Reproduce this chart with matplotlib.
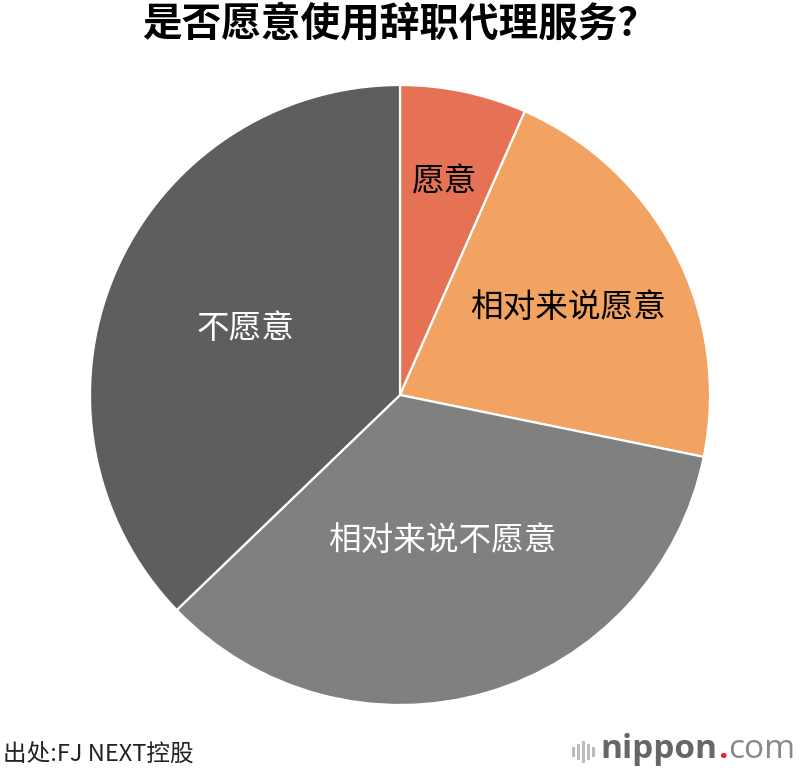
import numpy as np
import matplotlib
matplotlib.use("Agg")
import matplotlib.pyplot as plt
from matplotlib.patches import Rectangle

plt.rcParams["font.family"] = ["Noto Sans CJK SC", "DejaVu Sans"]

# data
labels = ["愿意", "相对来说愿意", "相对来说不愿意", "不愿意"]
shares = [6.6, 21.6, 34.6, 37.2]
colors = ["#E57254", "#F2A361", "#808080", "#5E5E5E"]
label_colors = ["black", "black", "white", "white"]
label_radius = [0.70, 0.61, 0.49, 0.54]

title = "是否愿意使用辞职代理服务？"
source = "出处:FJ NEXT控股"

W, H = 800, 776
fig = plt.figure(figsize=(W / 100, H / 100), dpi=100)

cx, cy, r = 400, 395, 310
ax = fig.add_axes([(cx - r) / W, (H - cy - r) / H, 2 * r / W, 2 * r / H])
ax.pie(shares, colors=colors, startangle=90, counterclock=False,
       wedgeprops=dict(edgecolor="white", linewidth=1.6))
ax.set_xlim(-1, 1)
ax.set_ylim(-1, 1)
ax.set_aspect("equal")
ax.axis("off")

# slice labels, placed at mid angle of each slice
total = sum(shares)
cum = 0
for lab, val, col, rr in zip(labels, shares, label_colors, label_radius):
    mid = (cum + val / 2) / total * 2 * np.pi
    cum += val
    x = rr * np.sin(mid)
    y = rr * np.cos(mid)
    ax.text(x, y, lab, ha="center", va="center", fontsize=23.5,
            fontweight="medium", color=col)

fig.text(0.5, 1 - 24 / H, title, ha="center", va="center",
         fontsize=28.5, fontweight="bold", color="black")

fig.text(3 / W, 1 - 754 / H, source, ha="left", va="center",
         fontsize=17, color="#222222")

# nippon.com logo
bars_x = [572, 577, 582, 587, 592]
bars_h = [10, 16, 22, 16, 10]
for bx, bh in zip(bars_x, bars_h):
    fig.add_artist(Rectangle((bx / W, (H - 752 - bh / 2) / H), 2.5 / W, bh / H,
                             transform=fig.transFigure, color="#BBBBBB", lw=0))

logo_font = ["Open Sans", "DejaVu Sans"]
fig.canvas.draw()
rend = fig.canvas.get_renderer()
x0 = 600
t1 = fig.text(x0 / W, 1 - 750 / H, "nippon", ha="left", va="center",
              fontsize=24, fontweight="bold", color="#666666", family=logo_font)
x1 = t1.get_window_extent(rend).x1
t2 = fig.text((x1 + 1) / W, 1 - 750 / H, ".", ha="left", va="center",
              fontsize=24, fontweight="bold", color="#E8242C", family=logo_font)
x2 = t2.get_window_extent(rend).x1
fig.text((x2 + 1) / W, 1 - 750 / H, "com", ha="left", va="center",
         fontsize=24, color="#888888", family=logo_font)

fig.savefig("out.png", dpi=100, facecolor="white")
